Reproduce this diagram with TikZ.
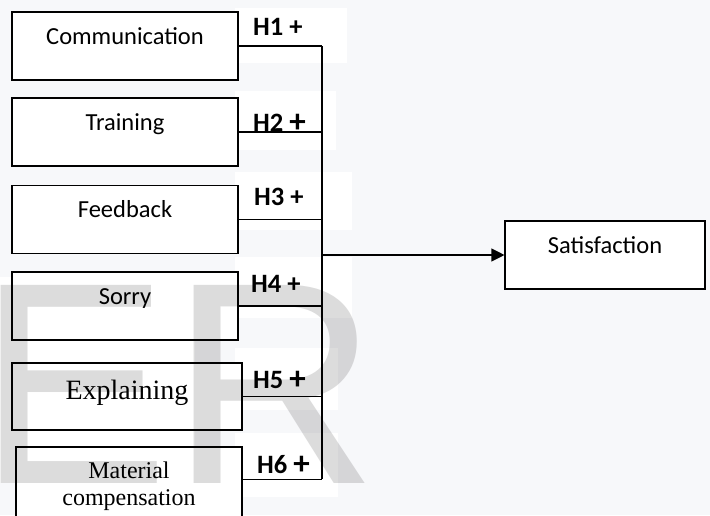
\documentclass[tikz,border=0pt]{standalone}
\usepackage{fontspec}
\setmainfont{Carlito}
\newfontfamily\timesfont{Liberation Serif}
\newfontfamily\markfont{Liberation Sans}
\usetikzlibrary{arrows.meta,calc}
\definecolor{paper}{HTML}{F7F8FA}
\definecolor{markgray}{HTML}{DCDCDC}
\newcommand\fatplus{\raisebox{-1.5pt}{\fontsize{33}{33}\selectfont+}}

\begin{document}
\begin{tikzpicture}[x=1pt,y=-1pt,
	box/.style={draw=black,fill=white,line width=1.1pt,inner sep=0pt,minimum width=226pt},
	factor/.style={box,text height=32pt,text depth=36pt,font=\fontsize{24.5}{29}\selectfont},
	hyp/.style={anchor=base west,inner sep=0pt,font=\bfseries\fontsize{26.5}{30}\selectfont},
	link/.style={line width=1.1pt},
	wmark/.style={anchor=base west,inner sep=0pt,text=markgray,font=\markfont\fontsize{288}{288}\selectfont}]
	\useasboundingbox (0,0) rectangle (710,515);
	\clip (0,0) rectangle (710,515);
	
	%%%%% paper %%%%%
	\fill[paper] (0,0) rectangle (710,515);
	\fill[white] (235,8) rectangle (347,63);
	\fill[white] (235,91) rectangle (336,150);
	\fill[white] (235,172) rectangle (352,230);
	\fill[white] (235,257) rectangle (352,318);
	\fill[white] (235,348) rectangle (338,410);
	\fill[white] (235,433) rectangle (338,497);
	\fill[white] (0,277) rectangle (195,483);
	
	%%%%% factors %%%%%
	\node[factor] (com) at (125,46) {Communication};
	\node[factor] (tra) at (125,132) {Training};
	\node[factor] (fee) at (125,219.5) {Feedback};
	\node[factor] (sor) at (125,306) {Sorry};
	\node[box,minimum width=230pt,text height=36pt,text depth=31pt,font=\timesfont\fontsize{28}{32}\selectfont] (exp) at (127,396.5) {Explaining};
	\node[box,minimum height=78pt,align=center,font=\timesfont\fontsize{24}{27}\selectfont] (mat) at (129,486) {Material\\compensation};
	\node[factor,minimum width=200pt] (sat) at (605,255) {Satisfaction};
	
	%%%%% links %%%%%
	\coordinate (bus) at (322,0);
	\coordinate (m6) at ($(mat.north east)+(0,33)$);
	\draw[link] (com.east) -- (com.east -| bus);
	\draw[link] (tra.east) -- (tra.east -| bus);
	\draw[link] (fee.east) -- (fee.east -| bus);
	\draw[link] (sor.east) -- (sor.east -| bus);
	\draw[link] (exp.east) -- (exp.east -| bus);
	\draw[link] (m6) -- (m6 -| bus);
	\draw[link] (com.east -| bus) -- (m6 -| bus);
	\draw[link,-{Triangle[length=13pt,width=13pt]}] (bus |- sat.west) -- (sat.west);
	
	%%%%% hypotheses %%%%%
	\node[hyp] (h1) at (253,35) {H1 +};
	\node[hyp] (h2) at (253,131) {H2 \fatplus};
	\node[hyp] (h3) at (254,205) {H3 +};
	\node[hyp] (h4) at (251,292) {H4 +};
	\node[hyp] (h5) at (253,388) {H5 \fatplus};
	\node[hyp] (h6) at (257,473) {H6 \fatplus};
	
	%%%%% watermark %%%%%
	\begin{scope}[blend mode=multiply]
		\node[wmark] (wmE) at (-23,483) {E};
		\node[wmark] (wmR) at (170,483) {R};
	\end{scope}
\end{tikzpicture}
\end{document}
